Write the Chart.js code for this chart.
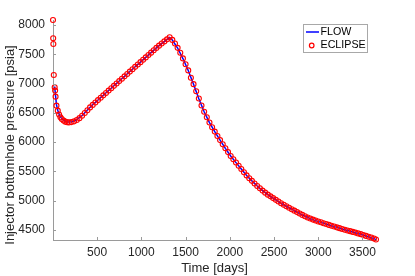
<!DOCTYPE html>
<html>
<head>
<meta charset="utf-8">
<script src="https://cdn.jsdelivr.net/npm/chart.js@4.4.1/dist/chart.umd.min.js"></script>
<style>
  body { margin: 0; background: #fff; }
  #wrap { width: 415px; height: 276px; position: relative; }
</style>
</head>
<body>
<div id="wrap"><canvas id="bhp-chart"></canvas></div>
<script>
// ECLIPSE report steps (days) and injector BHP (psia)
const eclipseDays = [
  1, 3, 5, 10, 20, 25, 30, 40, 55, 70, 85, 100, 120, 140, 160, 180,
  210, 240, 270, 300, 330, 360, 390, 420, 450, 480, 510, 540, 570, 600,
  630, 660, 690, 720, 750, 780, 810, 840, 870, 900, 930, 960, 990, 1020,
  1050, 1080, 1110, 1140, 1170, 1200, 1230, 1260, 1290, 1320, 1350, 1380,
  1410, 1440, 1470, 1500, 1530, 1560, 1590, 1620, 1650, 1680, 1710, 1740,
  1770, 1800, 1830, 1860, 1890, 1920, 1950, 1980, 2010, 2040, 2070, 2100,
  2130, 2160, 2190, 2220, 2250, 2280, 2310, 2340, 2370, 2400, 2430, 2460,
  2490, 2520, 2550, 2580, 2610, 2640, 2670, 2700, 2730, 2760, 2790, 2820,
  2850, 2880, 2910, 2940, 2970, 3000, 3030, 3060, 3090, 3120, 3150, 3180,
  3210, 3240, 3270, 3300, 3330, 3360, 3390, 3420, 3450, 3480, 3510, 3540,
  3570, 3600, 3630, 3653
];
const eclipsePressure = [
  8085, 7773, 7676, 7147, 6937, 6880, 6777, 6623, 6538, 6470, 6425, 6395, 6368, 6350, 6340, 6337,
  6342, 6355, 6378, 6410, 6450, 6497, 6545, 6593, 6636, 6677, 6718, 6758, 6799, 6839,
  6880, 6920, 6961, 7001, 7042, 7082, 7123, 7163, 7204, 7244, 7285, 7325, 7366, 7406,
  7447, 7487, 7528, 7568, 7609, 7647, 7683, 7720, 7755, 7790, 7745, 7685,
  7610, 7525, 7430, 7330, 7225, 7100, 6990, 6870, 6745, 6625, 6520, 6425,
  6335, 6255, 6180, 6105, 6035, 5965, 5895, 5830, 5765, 5707, 5652, 5597,
  5542, 5487, 5433, 5385, 5340, 5295, 5252, 5212, 5173, 5138, 5104, 5075,
  5045, 5015, 4986, 4958, 4931, 4906, 4881, 4856, 4831, 4806, 4782, 4758,
  4736, 4715, 4696, 4678, 4662, 4647, 4632, 4617, 4602, 4588, 4574, 4560,
  4546, 4532, 4519, 4506, 4493, 4481, 4468, 4456, 4443, 4430, 4414, 4400,
  4386, 4372, 4355, 4338
];

// FLOW simulation output
const flowDays = [
  20, 30, 40, 55, 70, 85, 100, 120, 140, 160, 180, 210, 240, 270, 330, 390,
  450, 510, 570, 630, 690, 750, 810, 870, 930, 990, 1050, 1110, 1170, 1230,
  1290, 1320, 1350, 1410, 1470, 1530, 1590, 1650, 1710, 1770, 1830, 1890,
  1950, 2010, 2070, 2130, 2190, 2250, 2310, 2370, 2430, 2490, 2550, 2610,
  2670, 2730, 2790, 2850, 2910, 2970, 3030, 3090, 3150, 3210, 3270, 3330,
  3390, 3450, 3510, 3570, 3630, 3653
];
const flowPressure = [
  6950, 6790, 6640, 6545, 6478, 6432, 6402, 6375, 6357, 6348, 6345, 6350, 6362, 6384, 6455, 6548,
  6638, 6719, 6800, 6881, 6962, 7043, 7124, 7205, 7286, 7367, 7448, 7529, 7609, 7683,
  7755, 7788, 7743, 7607, 7427, 7222, 6987, 6742, 6518, 6334, 6179, 6034,
  5894, 5764, 5651, 5541, 5432, 5339, 5251, 5172, 5103, 5044, 4985, 4930,
  4880, 4830, 4781, 4735, 4695, 4661, 4631, 4601, 4573, 4545, 4518, 4492,
  4467, 4442, 4413, 4385, 4354, 4337
];

const xTicks = [500, 1000, 1500, 2000, 2500, 3000, 3500];
const yTicks = [4500, 5000, 5500, 6000, 6500, 7000, 7500, 8000];

const xTitle = 'Time [days]';
const yTitle = 'Injector bottomhole pressure [psia]';

const FONT = "'Liberation Sans', Arial, Helvetica, sans-serif";
const TEXT = '#262626';
const AXIS = '#9a9a9a';

// inward tick marks, like the original figure
const inwardTicks = {
  id: 'inwardTicks',
  afterDraw(chart) {
    const ctx = chart.ctx;
    const xs = chart.scales.x;
    const ys = chart.scales.y;
    const area = chart.chartArea;
    ctx.save();
    ctx.strokeStyle = AXIS;
    ctx.lineWidth = 1;
    ctx.beginPath();
    xTicks.forEach(v => {
      const px = Math.round(xs.getPixelForValue(v)) + 0.5;
      ctx.moveTo(px, area.bottom);
      ctx.lineTo(px, area.bottom - 3);
    });
    yTicks.forEach(v => {
      const py = Math.round(ys.getPixelForValue(v)) + 0.5;
      ctx.moveTo(area.left, py);
      ctx.lineTo(area.left + 3, py);
    });
    ctx.stroke();
    ctx.restore();
  }
};

// y label, centred a bit lower than the plot area as in the figure
const yLabel = {
  id: 'yLabel',
  afterDraw(chart) {
    const ctx = chart.ctx;
    ctx.save();
    ctx.translate(10, 145);
    ctx.rotate(-Math.PI / 2);
    ctx.font = '13px ' + FONT;
    ctx.fillStyle = TEXT;
    ctx.textAlign = 'center';
    ctx.textBaseline = 'middle';
    ctx.fillText(yTitle, 0, 0);
    ctx.restore();
  }
};

// boxed legend in the upper right
const boxLegend = {
  id: 'boxLegend',
  afterDraw(chart) {
    const ctx = chart.ctx;
    const flow = chart.data.datasets[1];
    const ecl = chart.data.datasets[0];
    ctx.save();
    ctx.fillStyle = '#fff';
    ctx.fillRect(303.5, 24.5, 64, 28);
    ctx.strokeStyle = '#a8a8a8';
    ctx.lineWidth = 1;
    ctx.strokeRect(303.5, 24.5, 64, 28);

    ctx.strokeStyle = flow.borderColor;
    ctx.lineWidth = 1.5;
    ctx.beginPath();
    ctx.moveTo(306, 32);
    ctx.lineTo(319, 32);
    ctx.stroke();

    ctx.strokeStyle = ecl.pointBorderColor;
    ctx.lineWidth = 1.2;
    ctx.beginPath();
    ctx.arc(311.7, 45.5, 2.3, 0, Math.PI * 2);
    ctx.stroke();

    ctx.fillStyle = '#000';
    ctx.font = '10.7px ' + FONT;
    ctx.textBaseline = 'middle';
    ctx.fillText(flow.label, 320.5, 32.5);
    ctx.fillText(ecl.label, 320.5, 45.5);
    ctx.restore();
  }
};

const canvas = document.getElementById('bhp-chart');

new Chart(canvas, {
  type: 'scatter',
  data: {
    datasets: [
      {
        label: 'ECLIPSE',
        data: eclipseDays.map((d, i) => ({ x: d, y: eclipsePressure[i] })),
        showLine: false,
        clip: 6,
        pointStyle: 'circle',
        pointRadius: 2.5,
        pointBorderWidth: 1.1,
        pointBorderColor: '#ff0000',
        pointBackgroundColor: 'rgba(0,0,0,0)',
        borderColor: '#ff0000'
      },
      {
        label: 'FLOW',
        data: flowDays.map((d, i) => ({ x: d, y: flowPressure[i] })),
        showLine: true,
        clip: 2,
        borderColor: '#0000ff',
        borderWidth: 1.5,
        pointRadius: 0,
        tension: 0
      }
    ]
  },
  options: {
    responsive: true,
    maintainAspectRatio: false,
    animation: false,
    events: [],
    layout: { padding: { top: 20, right: 39, left: 0, bottom: 0 } },
    plugins: {
      legend: { display: false },
      tooltip: { enabled: false }
    },
    scales: {
      x: {
        type: 'linear',
        min: 1,
        max: 3653,
        afterBuildTicks: s => { s.ticks = xTicks.map(v => ({ value: v })); },
        afterFit: s => { s.height = 36; },
        grid: { display: false, drawTicks: false, tickLength: 0 },
        border: { display: true, color: AXIS, width: 1 },
        ticks: {
          color: TEXT,
          font: { family: FONT, size: 12 },
          padding: 5,
          maxRotation: 0,
          callback: v => String(v)
        },
        title: {
          display: true,
          text: xTitle,
          color: TEXT,
          font: { family: FONT, size: 13 },
          padding: { top: 3, bottom: 0 }
        }
      },
      y: {
        type: 'linear',
        min: 4330,
        max: 8085,
        afterBuildTicks: s => { s.ticks = yTicks.map(v => ({ value: v })); },
        afterFit: s => { s.width = 53; },
        grid: { display: false, drawTicks: false, tickLength: 0 },
        border: { display: true, color: AXIS, width: 1 },
        ticks: {
          color: TEXT,
          font: { family: FONT, size: 12 },
          padding: 8,
          callback: v => String(v)
        }
      }
    }
  },
  plugins: [inwardTicks, yLabel, boxLegend]
});
</script>
</body>
</html>
